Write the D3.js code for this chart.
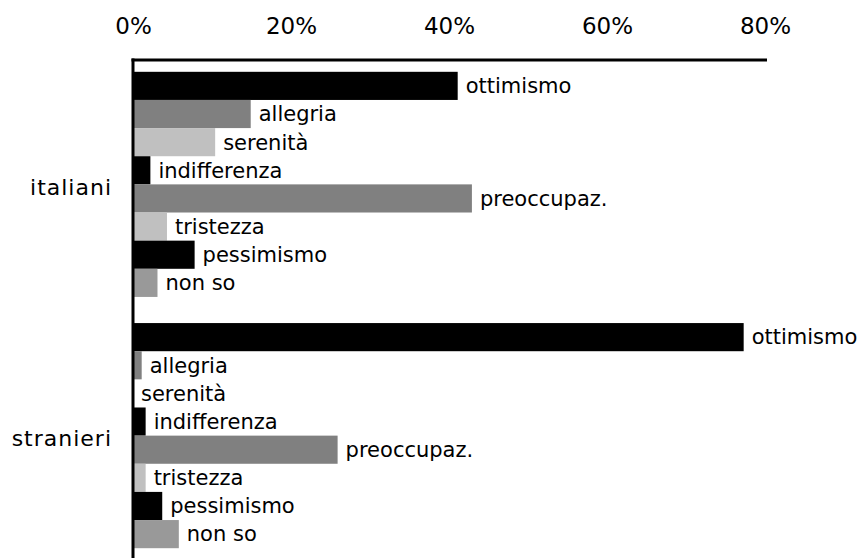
<!DOCTYPE html>
<html>
<head>
<meta charset="utf-8">
<script src="https://cdn.jsdelivr.net/npm/d3@7"></script>
<style>
  body { margin: 0; background: #fff; }
  text { font-family: "DejaVu Sans", Verdana, sans-serif; fill: #000; }
</style>
</head>
<body>
<div id="chart"></div>
<script>
// DATA
const groups = ["italiani", "stranieri"];
const moods = ["ottimismo", "allegria", "serenità", "indifferenza", "preoccupaz.", "tristezza", "pessimismo", "non so"];
const italianiValues = [41.1, 14.9, 10.4, 2.2, 42.9, 4.3, 7.8, 3.1];
const stranieriValues = [77.3, 1.1, 0, 1.6, 25.9, 1.6, 3.7, 5.8];
const tickValues = [0, 20, 40, 60, 80];
const moodColors = ["#000000", "#808080", "#c0c0c0", "#000000", "#808080", "#c0c0c0", "#000000", "#999999"];

// SIZES
const width = 864;
const height = 558;

const svg = d3.select("#chart")
    .append("svg")
    .attr("width", width)
    .attr("height", height);

// scales
const x = d3.scaleLinear()
    .domain([0, 80])
    .range([133, 765]);

const yGroup = d3.scaleBand()
    .domain(groups)
    .range([60, 560])
    .paddingInner(0.104)
    .paddingOuter(0.047);

const yMood = d3.scaleBand()
    .domain(moods)
    .range([0, yGroup.bandwidth()]);

const color = d3.scaleOrdinal()
    .domain(moods)
    .range(moodColors);

// rows for both groups
const rows = [];
groups.forEach(function(g, gi) {
    const vals = gi === 0 ? italianiValues : stranieriValues;
    moods.forEach(function(m, i) {
        rows.push({group: g, mood: m, value: vals[i]});
    });
});

// bars
svg.append("g")
    .selectAll("rect")
    .data(rows)
    .join("rect")
    .attr("x", x(0))
    .attr("y", d => yGroup(d.group) + yMood(d.mood))
    .attr("width", d => x(d.value) - x(0))
    .attr("height", yMood.bandwidth())
    .attr("fill", d => color(d.mood));

// bar labels
svg.append("g")
    .selectAll("text")
    .data(rows)
    .join("text")
    .attr("x", d => x(d.value) + 8)
    .attr("y", d => yGroup(d.group) + yMood(d.mood) + yMood.bandwidth() / 2)
    .attr("dy", "0.35em")
    .style("font-size", "21px")
    .text(d => d.mood);

// top axis (labels only)
const xAxis = svg.append("g")
    .attr("transform", "translate(0,60)")
    .call(d3.axisTop(x).tickValues(tickValues).tickFormat(d => d + "%").tickSize(0).tickPadding(26));
xAxis.select(".domain").remove();
xAxis.selectAll("text")
    .style("font-size", "23px")
    .style("font-family", "DejaVu Sans, Verdana, sans-serif");

// axis lines
svg.append("line")
    .attr("x1", 131.5).attr("x2", 767)
    .attr("y1", 60).attr("y2", 60)
    .attr("stroke", "#000").attr("stroke-width", 3);
svg.append("line")
    .attr("x1", 133).attr("x2", 133)
    .attr("y1", 58.5).attr("y2", height)
    .attr("stroke", "#000").attr("stroke-width", 3);

// group labels
svg.append("g")
    .selectAll("text")
    .data(groups)
    .join("text")
    .attr("x", 112)
    .attr("y", d => yGroup(d) + yGroup.bandwidth() / 2 + 3)
    .attr("dy", "0.35em")
    .attr("text-anchor", "end")
    .style("font-size", "22px")
    .style("letter-spacing", "1px")
    .text(d => d);
</script>
</body>
</html>
